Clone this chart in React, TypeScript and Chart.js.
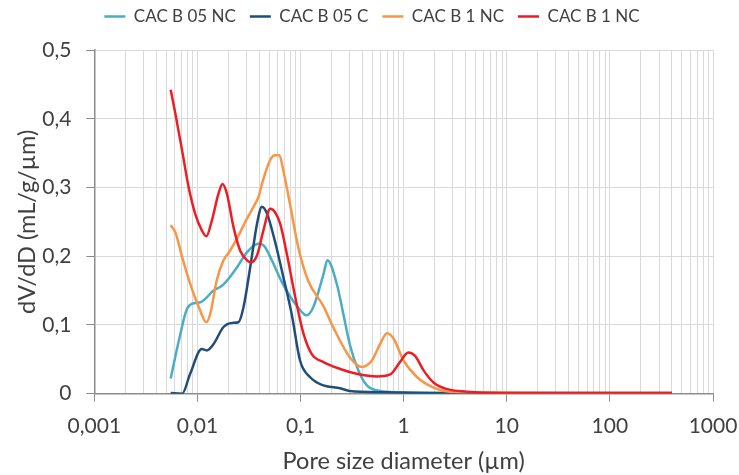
import React, { useEffect, useRef } from "react";
import { Chart, registerables } from "chart.js";

Chart.register(...registerables);

const seriesNames = ["CAC B 05 NC", "CAC B 05 C", "CAC B 1 NC", "CAC B 1 NC"];
const seriesColors = ["#4BACC6", "#1F4E79", "#F79646", "#EE1C25"];

const cyanX = [0.0055, 0.0066, 0.0079, 0.0095, 0.0107, 0.0119, 0.0143, 0.0173, 0.0207, 0.025, 0.0303, 0.039, 0.0437, 0.0527, 0.066, 0.0918, 0.115, 0.133, 0.167, 0.182, 0.2245, 0.26, 0.3, 0.363, 0.44, 0.59, 0.92, 2, 5, 10, 50, 400];
const cyanY = [0.022, 0.077, 0.123, 0.132, 0.133, 0.138, 0.15, 0.157, 0.17, 0.187, 0.206, 0.218, 0.216, 0.194, 0.162, 0.128, 0.114, 0.126, 0.174, 0.194, 0.16, 0.116, 0.072, 0.034, 0.012, 0.004, 0.002, 0.001, 0.001, 0.0005, 0, 0];

const blueX = [0.0055, 0.0071, 0.0085, 0.011, 0.0123, 0.0143, 0.0179, 0.0216, 0.025, 0.028, 0.0325, 0.0378, 0.0422, 0.0473, 0.0566, 0.068, 0.082, 0.099, 0.124, 0.167, 0.242, 0.3, 0.64, 2, 10, 400];
const blueY = [0.001, 0, 0.029, 0.065, 0.063, 0.072, 0.097, 0.103, 0.104, 0.126, 0.184, 0.247, 0.272, 0.262, 0.221, 0.17, 0.116, 0.048, 0.024, 0.012, 0.008, 0.004, 0.002, 0.001, 0.001, 0.001];

const orangeX = [0.0055, 0.0061, 0.0071, 0.0085, 0.0103, 0.0122, 0.0133, 0.0154, 0.0179, 0.0207, 0.025, 0.0303, 0.035, 0.039, 0.0437, 0.0508, 0.0566, 0.0623, 0.068, 0.079, 0.095, 0.118, 0.167, 0.21, 0.3, 0.39, 0.49, 0.59, 0.69, 0.8, 1.0, 1.35, 1.95, 2.8, 5.9, 20, 400];
const orangeY = [0.245, 0.235, 0.199, 0.16, 0.126, 0.104, 0.116, 0.165, 0.194, 0.208, 0.23, 0.255, 0.272, 0.286, 0.313, 0.34, 0.347, 0.347, 0.325, 0.276, 0.213, 0.165, 0.127, 0.095, 0.053, 0.039, 0.048, 0.072, 0.088, 0.08, 0.048, 0.024, 0.009, 0.003, 0.002, 0.001, 0];

const redX = [0.0055, 0.0061, 0.0071, 0.0082, 0.0095, 0.011, 0.0122, 0.0138, 0.016, 0.0175, 0.0193, 0.0224, 0.026, 0.0303, 0.033, 0.0378, 0.0437, 0.0508, 0.0566, 0.0635, 0.0735, 0.089, 0.107, 0.128, 0.167, 0.242, 0.35, 0.55, 0.74, 0.92, 1.11, 1.29, 1.56, 1.96, 2.6, 4.1, 8.7, 400];
const redY = [0.442, 0.408, 0.354, 0.301, 0.262, 0.238, 0.229, 0.252, 0.291, 0.305, 0.291, 0.242, 0.208, 0.194, 0.191, 0.201, 0.238, 0.269, 0.264, 0.247, 0.204, 0.14, 0.087, 0.058, 0.046, 0.036, 0.029, 0.025, 0.028, 0.046, 0.06, 0.055, 0.034, 0.016, 0.007, 0.003, 0.001, 0.001];

const decadeTicks = [0.001, 0.01, 0.1, 1, 10, 100, 1000];
const yTicks = [0, 0.1, 0.2, 0.3, 0.4, 0.5];

const FONT = "Lato";
const TEXT = "#404040";
const LEGEND_GAP = 15;
const LEGEND_SHIFT = 10;

function pts(xs: number[], ys: number[]) {
  return xs.map((x, i) => ({ x, y: ys[i] }));
}

function isDecade(v: number) {
  return decadeTicks.some((d) => Math.abs(d - v) / d < 1e-6);
}

const legendGapPlugin = {
  id: "legendGap",
  beforeLayout(chart: any) {
    const lg = chart.legend;
    if (lg && !lg._gapPatched) {
      const orig = lg.fit.bind(lg);
      lg.fit = function () {
        orig();
        this.height += LEGEND_GAP;
      };
      lg._gapPatched = true;
    }
  },
  afterLayout(chart: any) {
    const lg = chart.legend;
    if (lg) {
      lg.left += LEGEND_SHIFT;
      lg.right += LEGEND_SHIFT;
    }
  },
};

export default function App() {
  const ref = useRef<HTMLCanvasElement>(null);
  useEffect(() => {
    const xsList = [cyanX, blueX, orangeX, redX];
    const ysList = [cyanY, blueY, orangeY, redY];
    const chart = new Chart(ref.current!, {
      type: "line",
      plugins: [legendGapPlugin],
      data: {
        datasets: seriesNames.map((name, i) => ({
          label: name,
          data: pts(xsList[i], ysList[i]),
          borderColor: seriesColors[i],
          backgroundColor: seriesColors[i],
          borderWidth: 2.5,
          pointRadius: 0,
          cubicInterpolationMode: "monotone" as const,
          fill: false,
          order: 4 - i,
        })),
      },
      options: {
        animation: false,
        responsive: false,
        maintainAspectRatio: false,
        layout: { padding: { top: -6, left: 11, right: 26, bottom: 0 } },
        plugins: {
          tooltip: { enabled: false },
          legend: {
            position: "top",
            labels: {
              usePointStyle: true,
              pointStyle: "line",
              pointStyleWidth: 21,
              boxHeight: 3,
              padding: 14,
              color: TEXT,
              font: { family: FONT, size: 17 },
              sort: (a: any, b: any) => a.datasetIndex - b.datasetIndex,
            },
          },
        },
        scales: {
          x: {
            type: "logarithmic",
            min: 0.001,
            max: 1000,
            afterBuildTicks: (scale: any) => {
              const t: { value: number }[] = [];
              for (let k = 0; k < decadeTicks.length - 1; k++) {
                for (let m = 1; m <= 9; m++) {
                  t.push({ value: parseFloat((decadeTicks[k] * m).toPrecision(3)) });
                }
              }
              t.push({ value: decadeTicks[decadeTicks.length - 1] });
              scale.ticks = t;
            },
            ticks: {
              autoSkip: false,
              maxRotation: 0,
              padding: 0,
              color: TEXT,
              font: { family: FONT, size: 21, lineHeight: 2.29 },
              callback: (v: any) => (isDecade(Number(v)) ? String(Number(v)).replace(".", ",") : ""),
            },
            grid: {
              color: "#d9d9d9",
              lineWidth: 1,
              tickLength: 8,
              tickColor: (ctx: any) => (ctx.tick && isDecade(ctx.tick.value) ? "#8c8c8c" : "rgba(0,0,0,0)"),
            },
            border: { color: "#8c8c8c", width: 1.5 },
            title: {
              display: true,
              text: "Pore size diameter (µm)",
              color: TEXT,
              font: { family: FONT, size: 23.5 },
              padding: { top: -2, bottom: -1 },
            },
          },
          y: {
            min: 0,
            max: 0.5,
            afterBuildTicks: (scale: any) => {
              scale.ticks = yTicks.map((v) => ({ value: v }));
            },
            ticks: {
              padding: 15,
              color: TEXT,
              font: { family: FONT, size: 21 },
              callback: (v: any) => String(Math.round(Number(v) * 10) / 10).replace(".", ","),
            },
            grid: { color: "#d9d9d9", lineWidth: 1, tickLength: 8, tickColor: "#8c8c8c" },
            border: { color: "#8c8c8c", width: 1.5 },
            title: {
              display: true,
              text: "dV/dD (mL/g/µm)",
              color: TEXT,
              font: { family: FONT, size: 23.5 },
              padding: { top: 2, bottom: -14 },
            },
          },
        },
      },
    });
    return () => chart.destroy();
  }, []);
  return (
    <div style={{ position: "fixed", left: 0, top: 0, width: 739, height: 475, background: "#fff" }}>
      <canvas ref={ref} width={739} height={475} style={{ width: 739, height: 475 }} />
    </div>
  );
}
